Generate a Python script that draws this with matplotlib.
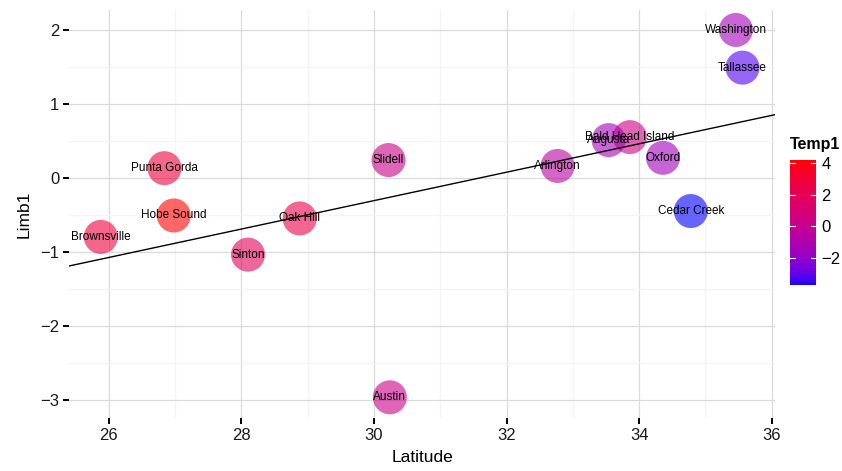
import numpy as np
import matplotlib
matplotlib.use('Agg')
import matplotlib.pyplot as plt
from matplotlib.colors import ListedColormap, Normalize
from matplotlib.ticker import MultipleLocator

plt.rcParams['font.family'] = ['Liberation Sans', 'DejaVu Sans']

sites = ['Washington', 'Tallassee', 'Bald Head Island', 'Augusta', 'Oxford',
         'Arlington', 'Cedar Creek', 'Slidell', 'Punta Gorda', 'Hobe Sound',
         'Brownsville', 'Oak Hill', 'Sinton', 'Austin']
latitude = [35.46, 35.56, 33.86, 33.54, 34.36, 32.77, 34.78, 30.22, 26.84, 26.98,
            25.88, 28.88, 28.10, 30.24]
limb1 = [2.00, 1.49, 0.55, 0.51, 0.27, 0.16, -0.45, 0.24, 0.13, -0.51,
         -0.80, -0.55, -1.04, -2.97]
temp1 = [-1.4, -3.2, 0.4, -1.3, -1.5, -0.6, -3.7, 0.3, 2.8, 4.2,
         2.8, 2.4, 1.8, 0.3]

# blue -> red, interpolated in CIE Lab
M = np.array([[0.4124, 0.3576, 0.1805],
              [0.2126, 0.7152, 0.0722],
              [0.0193, 0.1192, 0.9505]])
WHITE = np.array([0.95047, 1.0, 1.08883])


def to_lab(rgb):
    c = np.asarray(rgb, float)
    lin = np.where(c <= 0.04045, c / 12.92, ((c + 0.055) / 1.055) ** 2.4)
    xyz = M @ lin / WHITE
    f = np.where(xyz > 0.008856, np.cbrt(xyz), 7.787 * xyz + 16 / 116)
    return np.array([116 * f[1] - 16, 500 * (f[0] - f[1]), 200 * (f[1] - f[2])])


def from_lab(lab):
    fy = (lab[0] + 16) / 116
    f = np.array([fy + lab[1] / 500, fy, fy - lab[2] / 200])
    xyz = np.where(f ** 3 > 0.008856, f ** 3, (f - 16 / 116) / 7.787) * WHITE
    lin = np.linalg.solve(M, xyz)
    lin = np.clip(lin, 0, 1)
    c = np.where(lin <= 0.0031308, 12.92 * lin, 1.055 * lin ** (1 / 2.4) - 0.055)
    return np.clip(c, 0, 1)


lo, hi = to_lab([0, 0, 1]), to_lab([1, 0, 0])
cmap = ListedColormap([from_lab(lo + (hi - lo) * t) for t in np.linspace(0, 1, 256)])
norm = Normalize(vmin=min(temp1), vmax=max(temp1))

fig = plt.figure(figsize=(8.42, 4.71), dpi=100)
ax = fig.add_axes([69 / 842, 53 / 471, 706 / 842, 408 / 471])

ax.set_xlim(25.4, 36.05)
ax.set_ylim(-3.25, 2.27)
ax.xaxis.set_major_locator(MultipleLocator(2))
ax.xaxis.set_minor_locator(MultipleLocator(1))
ax.yaxis.set_major_locator(MultipleLocator(1))
ax.yaxis.set_minor_locator(MultipleLocator(0.5))
ax.grid(which='major', color='#DADADA', linewidth=0.9)
ax.grid(which='minor', color='#F4F4F4', linewidth=0.9)
ax.set_axisbelow(True)
for s in ax.spines.values():
    s.set_visible(False)
ax.tick_params(which='major', length=4, width=1.4, color='black',
               labelsize=12, labelcolor='#1a1a1a', pad=3)
ax.tick_params(which='minor', length=0)
ax.set_yticks([-3, -2, -1, 0, 1, 2])
ax.set_yticklabels(['\u22123', '\u22122', '\u22121', '0', '1', '2'])

sc = ax.scatter(latitude, limb1, c=temp1, cmap=cmap, norm=norm, s=600,
                alpha=0.6, linewidths=0, zorder=3)

# least squares line across the whole panel
k, b = np.polyfit(latitude, limb1, 1)
xs = np.array(ax.get_xlim())
ax.plot(xs, k * xs + b, color='black', linewidth=1, zorder=4)

for name, x, y in zip(sites, latitude, limb1):
    ax.text(x, y, name, ha='center', va='center', fontsize=8.5,
            color='black', zorder=5)

ax.set_xlabel('Latitude', fontsize=12.5, labelpad=5)
ax.set_ylabel('Limb1', fontsize=12.5, labelpad=6)

cax = fig.add_axes([790 / 842, (471 - 285) / 471, 26 / 842, 125 / 471])
cb = fig.colorbar(sc, cax=cax, ticks=[-2, 0, 2, 4])
cb.solids.set_alpha(1)
cb.outline.set_visible(False)
cb.ax.set_yticklabels(['\u22122', '0', '2', '4'])
cb.ax.tick_params(length=0, labelsize=12, pad=4)
for t in [-2, 0, 2, 4]:
    cax.plot([0, 0.2], [t, t], color='white', linewidth=0.8)
    cax.plot([0.8, 1], [t, t], color='white', linewidth=0.8)
cax.set_xlim(0, 1)
fig.text(790 / 842, (471 - 145) / 471, 'Temp1', fontsize=11.5, fontweight='bold',
         va='center')

fig.savefig('out.png', dpi=100)
